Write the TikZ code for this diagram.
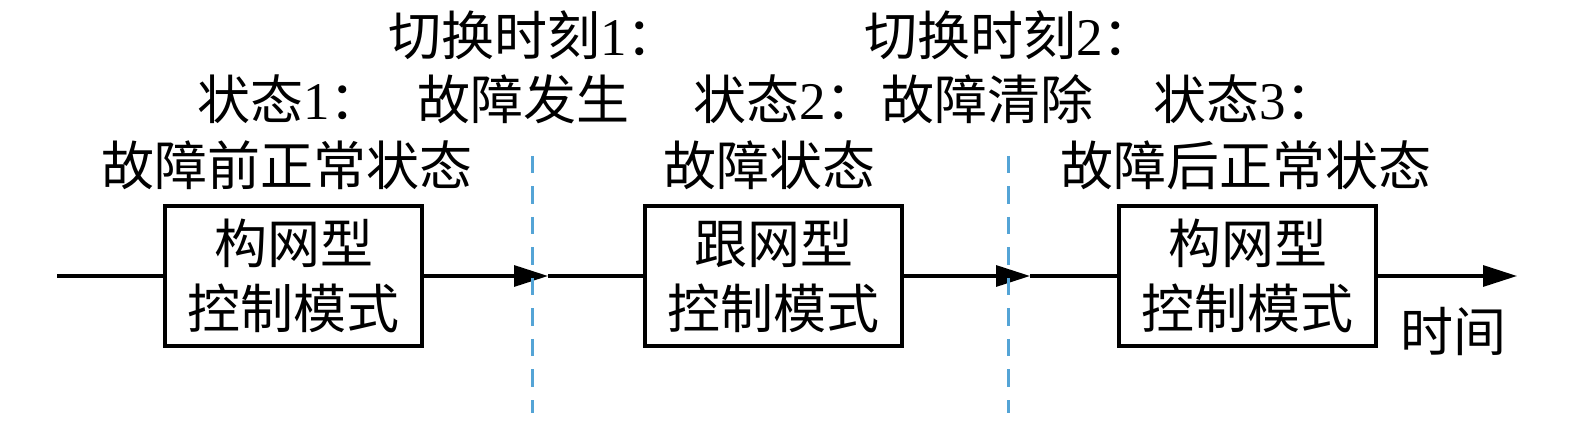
\documentclass[tikz,border=0pt]{standalone}
\usepackage{fontspec}
\setmainfont{Liberation Serif}
\newfontfamily\cjk{Noto Sans CJK SC}
\newcommand\zh[1]{{\cjk #1}}
\usetikzlibrary{arrows.meta}
\definecolor{dashblue}{RGB}{84,164,214}
\begin{document}
\begin{tikzpicture}[x=1pt,y=-1pt,
  lbl/.style={anchor=west,inner sep=0pt,text height=44pt,text depth=4pt,font=\fontsize{53}{65}\selectfont},
  modebox/.style={draw,line width=3.2pt,minimum width=257pt,minimum height=140pt,inner sep=0pt,align=center,font=\fontsize{53}{65}\selectfont},
  axis/.style={line width=3.2pt},
  tip/.style={-{Triangle[length=34pt,width=21pt]}},
  sep/.style={dashblue,line width=3pt,dash pattern=on 17.5pt off 13pt}]
\useasboundingbox (0,0) rectangle (1575,430);
% boxes
\node[modebox] (b1) at (293.5,276) {\zh{构网型}\\\zh{控制模式}};
\node[modebox] (b2) at (773.5,276) {\zh{跟网型}\\\zh{控制模式}};
\node[modebox] (b3) at (1247.5,276) {\zh{构网型}\\\zh{控制模式}};
% axis
\coordinate (start) at (57,276);
\coordinate (t1) at (548,276);
\coordinate (t2) at (1030,276);
\coordinate (tend) at (1517,276);
\draw[axis] (start) -- (b1.west);
\draw[axis,tip] (b1.east) -- (t1);
\draw[axis] (t1) -- (b2.west);
\draw[axis,tip] (b2.east) -- (t2);
\draw[axis] (t2) -- (b3.west);
\draw[axis,tip] (b3.east) -- (tend);
% separators
\coordinate (d1t) at (532,156);
\coordinate (d1b) at (532,413);
\coordinate (d2t) at (1008,156);
\coordinate (d2b) at (1008,413);
\draw[sep] (d1t) -- (d1b);
\draw[sep] (d2t) -- (d2b);
% labels
\node[lbl] (sw1) at (388,36) {\zh{切换时刻}1\zh{：}};
\node[lbl] (sw2) at (864,36) {\zh{切换时刻}2\zh{：}};
\node[lbl] (s1) at (197,100) {\zh{状态}1\zh{：}};
\node[lbl] (f1) at (417,100) {\zh{故障发生}};
\node[lbl] (s2) at (693,100) {\zh{状态}2\zh{：}};
\node[lbl] (f2) at (881,100) {\zh{故障清除}};
\node[lbl] (s3) at (1153,100) {\zh{状态}3\zh{：}};
\node[lbl] (st1) at (101,166) {\zh{故障前正常状态}};
\node[lbl] (st2) at (663,166) {\zh{故障状态}};
\node[lbl] (st3) at (1060,166) {\zh{故障后正常状态}};
\node[lbl] (time) at (1400,332) {\zh{时间}};
\end{tikzpicture}
\end{document}
